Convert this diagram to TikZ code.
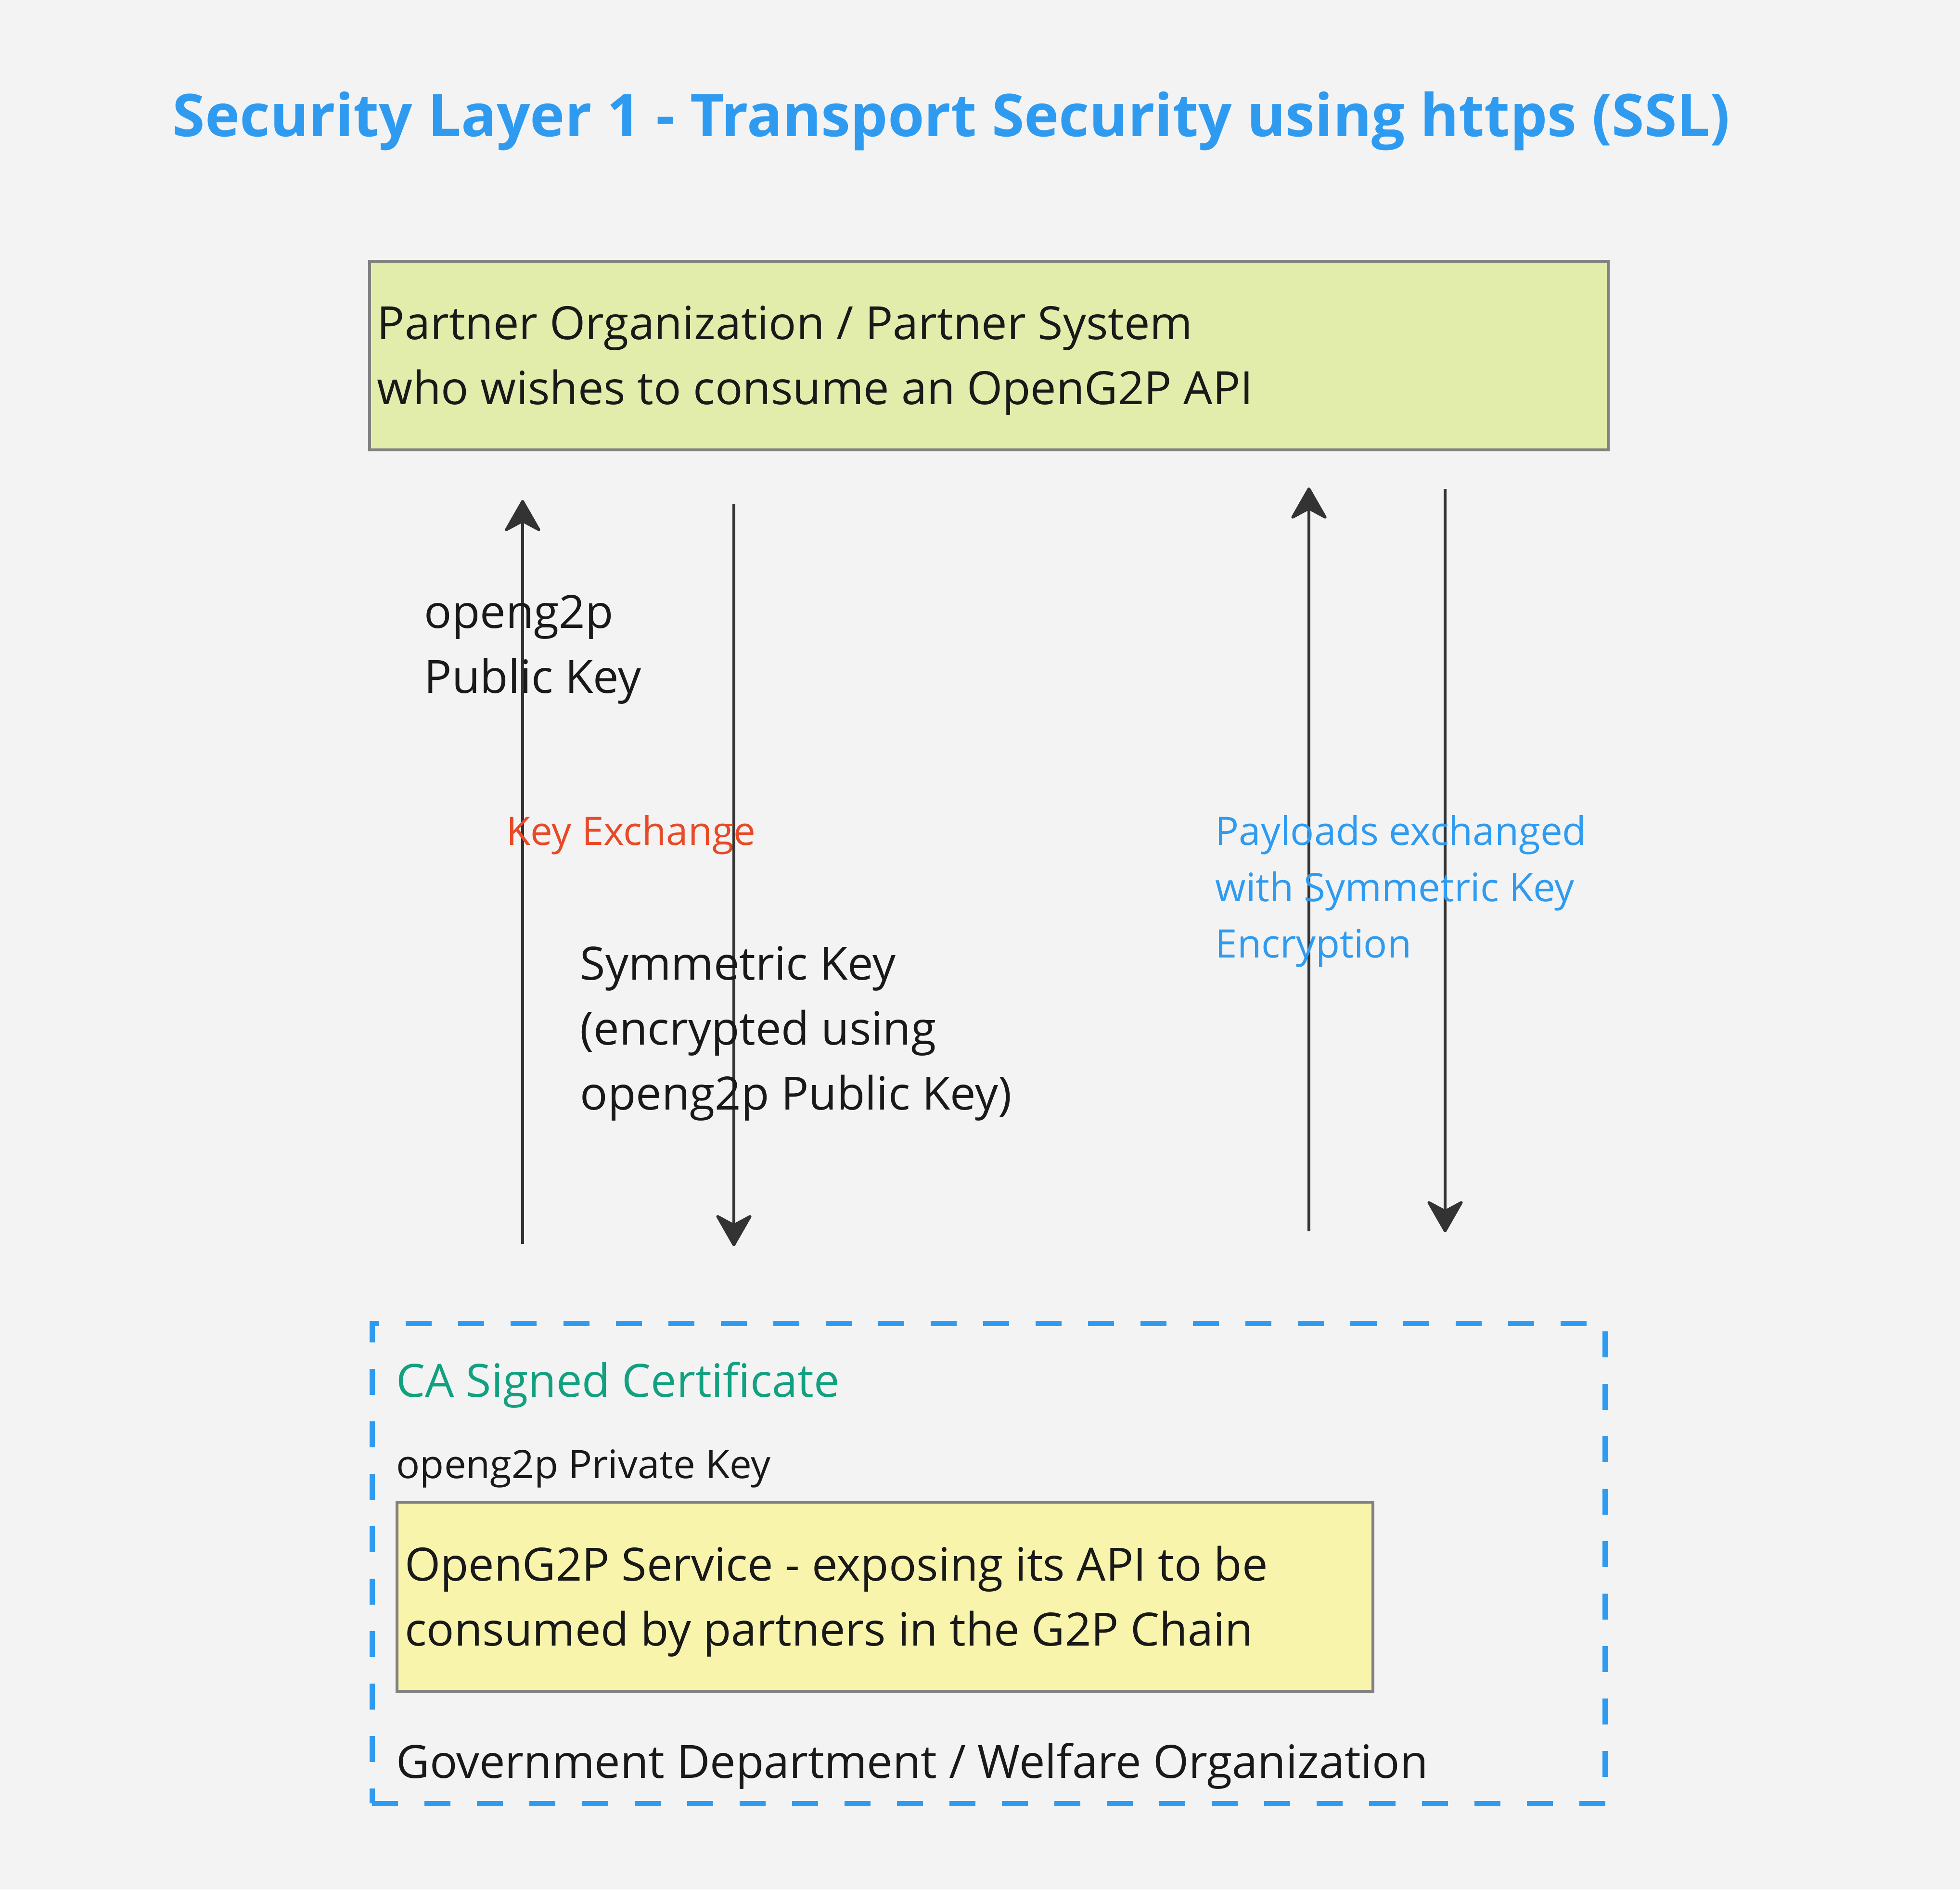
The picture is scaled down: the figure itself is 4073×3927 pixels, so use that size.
\documentclass[tikz,border=0pt]{standalone}
\usepackage{fontspec}
\setmainfont{Open Sans}
\usetikzlibrary{arrows.meta,positioning}

\definecolor{bgcol}{RGB}{243,243,243}
\definecolor{titleblue}{RGB}{47,155,240}
\definecolor{keyred}{RGB}{232,74,39}
\definecolor{certgreen}{RGB}{18,161,128}
\definecolor{partnerfill}{RGB}{226,237,172}
\definecolor{servicefill}{RGB}{248,244,171}
\definecolor{edgegrey}{RGB}{128,128,128}
\definecolor{arrowgrey}{RGB}{51,51,51}

\newcommand{\bodyfont}{\fontsize{27.1}{38.4}\selectfont}
\newcommand{\smallfont}{\fontsize{23.2}{33.3}\selectfont}

\tikzset{
  sysbox/.style={draw=edgegrey, line width=1.7pt, minimum width=25.72cm, minimum height=3.92cm, inner sep=0pt},
  orgbox/.style={draw=titleblue, line width=3.1pt, dash pattern=on 0.54cm off 0.55cm, minimum width=25.61cm, minimum height=9.97cm, inner sep=0pt},
  txt/.style={anchor=west, inner sep=0pt, align=left, font=\bodyfont, text=black!90},
  smalltxt/.style={txt, font=\smallfont},
  flow/.style={draw=arrowgrey, line width=1.7pt, -{Stealth[length=0.72cm, width=0.82cm, inset=0.22cm, round]}}
}

\begin{document}
\begin{tikzpicture}[x=0.01cm, y=-0.01cm]
\fill[bgcol] (0,0) rectangle (4073,3927);

% title
\node[inner sep=0pt, font=\fontsize{34.8}{40}\selectfont\bfseries, text=titleblue] (title) at (1977,252) {Security Layer 1 - Transport Security using https (SSL)};

% partner side
\node[sysbox, fill=partnerfill] (partner) at (2055,739) {};
\node[txt, right=0.18cm of partner.west, yshift=-0.1cm] (partnertxt) {Partner Organization / Partner System\\who wishes to consume an OpenG2P API};

% government side
\node[orgbox] (govt) at (2054.5,3249.5) {};
\node[sysbox, fill=servicefill, minimum width=20.26cm, minimum height=3.93cm] (service) at (1839,3318.5) {};
\node[txt, right=0.18cm of service.west, yshift=-0.1cm] (servicetxt) {OpenG2P Service - exposing its API to be\\consumed by partners in the G2P Chain};
\node[txt, text=certgreen] (cert) at (823,2878) {CA Signed Certificate};
\node[smalltxt] (privkey) at (823,3052) {openg2p Private Key};
\node[txt] (govttxt) at (823,3670) {Government Department / Welfare Organization};

% arrow ends
\coordinate (pubkeyS) at (1086,2585);
\coordinate (pubkeyE) at (1086,1039);
\coordinate (symkeyS) at (1525,1047);
\coordinate (symkeyE) at (1525,2590);
\coordinate (payupS) at (2720,2559);
\coordinate (payupE) at (2720,1013);
\coordinate (paydownS) at (3003,1016);
\coordinate (paydownE) at (3003,2561);

\draw[flow] (pubkeyS) -- (pubkeyE);
\draw[flow] (symkeyS) -- (symkeyE);
\draw[flow] (payupS) -- (payupE);
\draw[flow] (paydownS) -- (paydownE);

% labels
\node[txt] (pubkey) at (881,1350) {openg2p\\Public Key};
\node[smalltxt, text=keyred] (keyex) at (1052,1735) {Key Exchange};
\node[txt] (symkey) at (1205,2148) {Symmetric Key\\(encrypted using\\openg2p Public Key)};
\node[smalltxt, text=titleblue] (payload) at (2525,1852) {Payloads exchanged\\with Symmetric Key\\Encryption};
\end{tikzpicture}
\end{document}
